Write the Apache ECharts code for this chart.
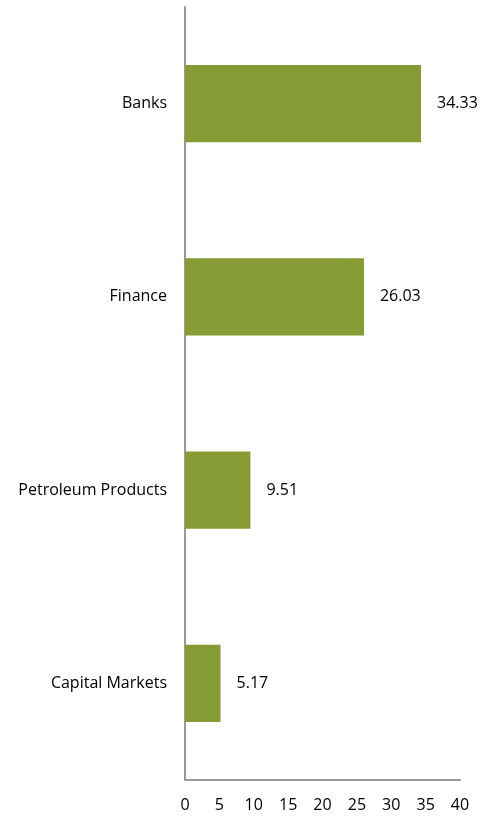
<!DOCTYPE html>
<html>
<head>
<meta charset="utf-8">
<script src="https://cdn.jsdelivr.net/npm/echarts@6/dist/echarts.min.js"></script>
<style>
  html, body { margin: 0; padding: 0; background: #fff; }
  #chart { width: 489px; height: 816px; }
</style>
</head>
<body>
<div id="chart"></div>
<script>
// Sector weights (%), listed bottom-to-top as the category axis draws them
const sectors = ['Capital Markets', 'Petroleum Products', 'Finance', 'Banks'];
const weights = [5.17, 9.51, 26.03, 34.33];
const xTicks = [0, 5, 10, 15, 20, 25, 30, 35, 40];

const FONT = 'Open Sans';
const chart = echarts.init(document.getElementById('chart'));
chart.setOption({
  animation: false,
  backgroundColor: '#ffffff',
  grid: { left: 185, right: 29, top: 7, bottom: 36, containLabel: false },
  xAxis: {
    type: 'value',
    min: xTicks[0],
    max: xTicks[xTicks.length - 1],
    interval: xTicks[1] - xTicks[0],
    axisLine: { show: true, lineStyle: { color: '#9a9a9a', width: 2 } },
    axisTick: { show: false },
    splitLine: { show: false },
    axisLabel: { color: '#000', fontFamily: FONT, fontSize: 16, margin: 17 }
  },
  yAxis: {
    type: 'category',
    data: sectors,
    axisLine: { show: true, lineStyle: { color: '#9a9a9a', width: 2 } },
    axisTick: { show: false },
    axisLabel: { color: '#000', fontFamily: FONT, fontSize: 16, margin: 18 }
  },
  series: [{
    type: 'bar',
    data: weights,
    barWidth: '40%',
    itemStyle: { color: '#879b34' },
    label: {
      show: true,
      position: 'right',
      distance: 16,
      color: '#000',
      fontFamily: FONT,
      fontSize: 16,
      formatter: p => p.value.toFixed(2)
    }
  }]
});
</script>
</body>
</html>
